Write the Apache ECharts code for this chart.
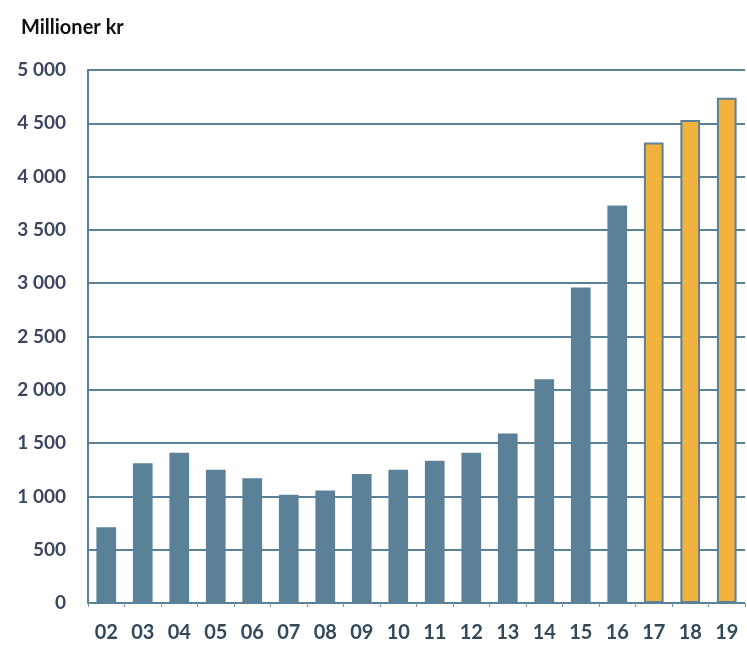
<!DOCTYPE html>
<html>
<head>
<meta charset="utf-8">
<script src="https://cdn.jsdelivr.net/npm/echarts@6/dist/echarts.min.js"></script>
<style>
  html, body { margin: 0; padding: 0; background: #fff; }
  #chart { width: 747px; height: 646px; }
</style>
</head>
<body>
<div id="chart"></div>
<script>
// 数据
const years = ['02', '03', '04', '05', '06', '07', '08', '09', '10', '11', '12', '13', '14', '15', '16', '17', '18', '19'];
const values = [710, 1310, 1410, 1250, 1170, 1015, 1055, 1210, 1250, 1335, 1410, 1590, 2100, 2960, 3730, 4320, 4530, 4740];
const forecastFrom = 15; // 17, 18, 19 为预测值

const blue = '#5a8197';
const orange = '#f2b23e';

const chart = echarts.init(document.getElementById('chart'));

// 千位空格分隔
const fmt = v => v >= 1000 ? Math.floor(v / 1000) + ' ' + String(v % 1000).padStart(3, '0') : String(v);

chart.setOption({
  animation: false,
  title: {
    text: 'Millioner kr',
    left: 16,
    top: 13,
    textStyle: { fontFamily: 'Lato', fontSize: 20, fontWeight: 'bold', color: '#111' }
  },
  grid: { left: 88, right: 2, top: 70, bottom: 43 },
  xAxis: {
    type: 'category',
    data: years,
    axisLine: { show: false },
    axisTick: { show: true, length: 4, lineStyle: { color: '#7a98aa' } },
    axisLabel: { fontFamily: 'Lato', fontSize: 20, fontWeight: 'bold', color: '#34495a', margin: 20 }
  },
  yAxis: {
    type: 'value',
    min: 0,
    max: 5000,
    interval: 500,
    axisLine: { show: true, lineStyle: { color: blue, width: 2 } },
    axisTick: { show: false },
    splitLine: { lineStyle: { color: blue, width: 2 } },
    axisLabel: { formatter: fmt, fontFamily: 'Lato', fontSize: 19, fontWeight: 'bold', color: '#3a4660', margin: 22 }
  },
  series: [{
    type: 'bar',
    barWidth: '54%',
    data: values.map((v, i) => i < forecastFrom
      ? { value: v, itemStyle: { color: blue } }
      : { value: v, itemStyle: { color: orange, borderColor: blue, borderWidth: 2 } })
  }]
});
</script>
</body>
</html>
